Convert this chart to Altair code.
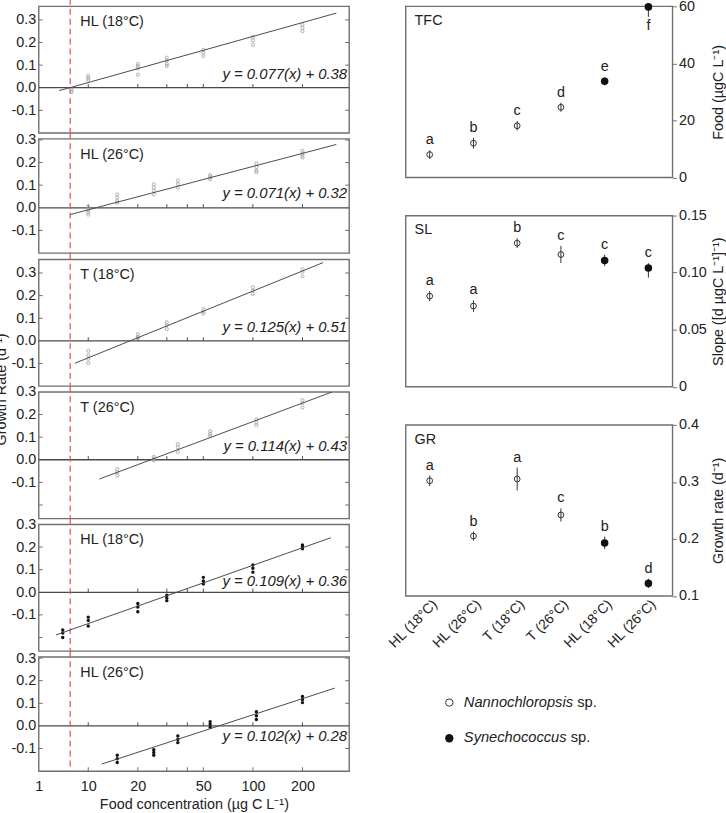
import json
import altair as alt
import pandas as pd

FONT = "Liberation Sans"
TXT = "#222222"
FRAME = "#707070"
LINE = "#4a4a4a"

# ---------------- left column: growth rate vs food concentration ----------------
panel_labels = ["HL (18°C)", "HL (26°C)", "T (18°C)", "T (26°C)", "HL (18°C)", "HL (26°C)"]
equations = ["y = 0.077(x) + 0.38", "y = 0.071(x) + 0.32", "y = 0.125(x) + 0.51",
             "y = 0.114(x) + 0.43", "y = 0.109(x) + 0.36", "y = 0.102(x) + 0.28"]
panel_species = ["N", "N", "N", "N", "S", "S"]
y_domains = [[-0.2, 0.36], [-0.2, 0.305], [-0.2, 0.36], [-0.26, 0.3], [-0.26, 0.3], [-0.2, 0.305]]
equation_y = [0.06, 0.067, 0.061, 0.062, 0.051, -0.045]

p1_food = [7.9, 10, 20, 30, 50, 100, 200]
p1_rate = [[-0.005, -0.012, -0.02], [0.053, 0.044, 0.035], [0.105, 0.095, 0.085, 0.058],
           [0.133, 0.12, 0.105, 0.096], [0.168, 0.155, 0.14], [0.224, 0.21, 0.19], [0.278, 0.265, 0.25]]
p2_food = [10, 15, 25, 35, 55, 105, 200]
p2_rate = [[0.005, -0.01, -0.02, -0.03], [0.059, 0.045, 0.03, 0.022], [0.104, 0.089, 0.075, 0.059],
           [0.121, 0.105, 0.089], [0.145, 0.135, 0.126], [0.196, 0.18, 0.165, 0.158], [0.252, 0.24, 0.23, 0.222]]
p3_food = [10, 20, 30, 50, 100, 200]
p3_rate = [[-0.044, -0.064, -0.079, -0.098], [0.029, 0.018, 0.012], [0.082, 0.07, 0.052],
           [0.14, 0.128, 0.121], [0.237, 0.222, 0.208], [0.317, 0.305, 0.285]]
p4_food = [15, 25, 35, 55, 105, 200]
p4_rate = [[-0.041, -0.055, -0.07], [0.013, 0.005, -0.003], [0.069, 0.055, 0.035],
           [0.126, 0.115, 0.106], [0.179, 0.165, 0.153], [0.264, 0.25, 0.231]]
p5_food = [7, 10, 20, 30, 50, 100, 200]
p5_rate = [[-0.167, -0.18, -0.2], [-0.11, -0.125, -0.149], [-0.05, -0.065, -0.086],
           [-0.013, -0.025, -0.037], [0.066, 0.05, 0.037], [0.121, 0.106, 0.089], [0.209, 0.2, 0.192]]
p6_food = [15, 25, 35, 55, 105, 200]
p6_rate = [[-0.13, -0.145, -0.162], [-0.105, -0.118, -0.13], [-0.045, -0.06, -0.074],
           [0.019, 0.008, -0.006], [0.063, 0.045, 0.028], [0.13, 0.117, 0.103]]

fit_x0 = [6.66, 7.77, 8.3, 11.7, 6.36, 12.05]
fit_y0 = [-0.013, -0.03, -0.099, -0.085, -0.189, -0.169]
fit_x1 = [321, 321, 267, 303, 297, 314]
fit_y1 = [0.33, 0.28, 0.346, 0.30, 0.241, 0.167]

threshold_food = 7.77
x_domain = [5, 384]
x_axis_values = [5, 10, 20, 50, 100, 200]
x_axis_labels = ["1", "10", "20", "50", "100", "200"]
zero_line_ticks = [10, 20, 30, 40, 50, 100, 200]
y_axis_values = [-0.1, 0.0, 0.1, 0.2, 0.3]
frame_ticks = [-0.2, -0.1, 0.1, 0.2, 0.3]

# ---------------- right column: treatment summaries ----------------
treat_ids = ["A", "B", "C", "D", "E", "F"]
treat_labels = ["HL (18°C)", "HL (26°C)", "T (18°C)", "T (26°C)", "HL (18°C)", "HL (26°C)"]
treat_species = ["N", "N", "N", "N", "S", "S"]
tfc_mean = [8.0, 12.0, 18.1, 24.6, 33.7, 59.8]
tfc_low = [6.5, 10.1, 16.4, 23.0, 32.3, 56.3]
tfc_high = [9.5, 13.9, 19.8, 26.2, 35.1, 60.0]
tfc_letters = ["a", "b", "c", "d", "e", "f"]
sl_mean = [0.0794, 0.0707, 0.1258, 0.1159, 0.1107, 0.1040]
sl_low = [0.0749, 0.0657, 0.1215, 0.1084, 0.1057, 0.0956]
sl_high = [0.0839, 0.0757, 0.1301, 0.1234, 0.1157, 0.1083]
sl_letters = ["a", "a", "b", "c", "c", "c"]
gr_mean = [0.302, 0.205, 0.305, 0.242, 0.193, 0.122]
gr_low = [0.293, 0.197, 0.285, 0.2305, 0.182, 0.114]
gr_high = [0.311, 0.213, 0.325, 0.2535, 0.204, 0.130]
gr_letters = ["a", "b", "a", "c", "b", "d"]

legend_genus = ["Nannochloropsis", "Synechococcus"]

# ---------------- layout constants ----------------
PX_PER_UNIT = 228
LEFT_W = 313
RIGHT_W = 269
RIGHT_H = 172.5
LEFT_GAP = 5.6

left_food = [p1_food, p2_food, p3_food, p4_food, p5_food, p6_food]
left_rate = [p1_rate, p2_rate, p3_rate, p4_rate, p5_rate, p6_rate]

x_label_expr = "{}[indexof({}, datum.value)]".format(
    json.dumps(x_axis_labels), json.dumps(x_axis_values))
y_label_expr = "datum.value < 0 ? '-' + format(-datum.value, '.1f') : format(datum.value, '.1f')"
treat_label_expr = "{}[indexof({}, datum.value)]".format(
    json.dumps(treat_labels, ensure_ascii=False), json.dumps(treat_ids))


def points_df(food, rates):
    rows = []
    for x, ys in zip(food, rates):
        for y in ys:
            rows.append({"food": x, "rate": y})
    return pd.DataFrame(rows)


def left_panel(i):
    d0, d1 = y_domains[i]
    h = (d1 - d0) * PX_PER_UNIT
    xs = alt.Scale(type="log", domain=x_domain, nice=False)
    ys = alt.Scale(domain=[d0, d1], nice=False, zero=False)
    bottom = i == len(panel_labels) - 1

    if bottom:
        x_axis = alt.Axis(values=x_axis_values, labelExpr=x_label_expr,
                          title="Food concentration (µg C L⁻¹)", tickSize=0, labelPadding=9,
                          titlePadding=4, domain=False, grid=False, labelFlush=False)
    else:
        x_axis = None
    if i == 2:
        y_axis = alt.Axis(values=y_axis_values, labelExpr=y_label_expr, tickSize=0,
                          labelPadding=3, domain=False, grid=False,
                          title="Growth Rate (d⁻¹)", titlePadding=2, titleY=h + 3)
    else:
        y_axis = alt.Axis(values=y_axis_values, labelExpr=y_label_expr, tickSize=0,
                          labelPadding=3, domain=False, grid=False, title=None)

    def X(f="food:Q"):
        return alt.X(f, scale=xs, axis=x_axis)

    def Y(f="rate:Q"):
        return alt.Y(f, scale=ys, axis=y_axis)

    zero = alt.Chart(pd.DataFrame({"rate": [0.0]})).mark_rule(
        color=LINE, strokeWidth=1.3).encode(y=Y())
    zt = alt.Chart(pd.DataFrame({"food": zero_line_ticks, "rate": 0.0, "hi": 0.016})).mark_rule(
        color=LINE, strokeWidth=1).encode(x=X(), y=Y(), y2="hi:Q")
    ft = pd.DataFrame({"rate": [v for v in frame_ticks if d0 < v < d1]})
    lt = alt.Chart(ft).mark_tick(orient="horizontal", size=4, thickness=1, color=FRAME,
                                 opacity=1).encode(y=Y(), x=alt.value(2))
    rt = alt.Chart(ft).mark_tick(orient="horizontal", size=4, thickness=1, color=FRAME,
                                 opacity=1).encode(y=Y(), x=alt.value(LEFT_W - 2))
    # dashed threshold line, running up through the gap above each panel
    red_top = -7.5 if i == 0 else -LEFT_GAP
    red = alt.Chart(pd.DataFrame({"food": [threshold_food]})).mark_rule(
        color="#e0504a", strokeDash=[6, 4], strokeWidth=1.2).encode(
        x=X(), y=alt.value(red_top), y2=alt.value(h))
    pdf = points_df(left_food[i], left_rate[i])
    if panel_species[i] == "N":
        pts = alt.Chart(pdf).mark_point(shape="circle", filled=False, color="#a5a5a5",
                                        strokeWidth=0.9, size=10, opacity=1)
    else:
        pts = alt.Chart(pdf).mark_point(shape="circle", filled=True, color="#111111",
                                        size=12, opacity=1)
    pts = pts.encode(x=X(), y=Y())
    fit = alt.Chart(pd.DataFrame({"food": [fit_x0[i], fit_x1[i]],
                                  "rate": [fit_y0[i], fit_y1[i]]})).mark_line(
        color=LINE, strokeWidth=1, clip=True).encode(x=X(), y=Y())
    lab = alt.Chart(pd.DataFrame({"t": [panel_labels[i]]})).mark_text(
        align="left", baseline="middle", fontSize=14.5, font=FONT, color=TXT).encode(
        text="t:N", x=alt.value(42), y=alt.value(16))
    eq = alt.Chart(pd.DataFrame({"t": [equations[i]], "rate": [equation_y[i]]})).mark_text(
        align="right", baseline="middle", fontSize=15, fontStyle="italic", font=FONT,
        color=TXT).encode(text="t:N", x=alt.value(LEFT_W - 2), y=Y())
    layers = [zero, zt, lt, rt, red, pts, fit, lab, eq]
    if bottom:
        bt = alt.Chart(pd.DataFrame({"food": zero_line_ticks})).mark_tick(
            orient="vertical", size=4, thickness=1, color=FRAME, opacity=1).encode(
            x=X(), y=alt.value(h - 2))
        layers.append(bt)
    return alt.layer(*layers).properties(width=LEFT_W, height=h)


def legend_layers():
    leg_df = pd.DataFrame({"genus": legend_genus, "row": [0, 1]})
    rows_y = [RIGHT_H + 107.5, RIGHT_H + 143.5]
    sp_x = [173, 166.5]
    base = alt.Chart(leg_df)
    out = []
    for r in range(2):
        sub = base.transform_filter(f"datum.row == {r}")
        if r == 0:
            mk = sub.mark_point(shape="circle", filled=False, color="#333333", strokeWidth=1,
                                size=55, opacity=1)
        else:
            mk = sub.mark_point(shape="circle", filled=True, color="#111111", size=70,
                                opacity=1)
        out.append(mk.encode(x=alt.value(44), y=alt.value(rows_y[r])))
        out.append(sub.mark_text(align="left", baseline="middle", fontSize=14.8,
                                 fontStyle="italic", font=FONT, color=TXT).encode(
            x=alt.value(58.7), y=alt.value(rows_y[r]), text="genus:N"))
        out.append(sub.mark_text(align="left", baseline="middle", fontSize=14.8, font=FONT,
                                 color=TXT, text="sp.").encode(
            x=alt.value(sp_x[r]), y=alt.value(rows_y[r])))
    return out


def right_panel(name, mean, low, high, letters, domain, axis_values, axis_label_expr,
                axis_title, show_x):
    df = pd.DataFrame({"treat": treat_ids, "species": treat_species, "mean": mean,
                       "low": low, "high": high, "letter": letters})
    xs = alt.Scale(type="point", padding=0.55, domain=treat_ids)
    ys = alt.Scale(domain=domain, nice=False, zero=False)
    if show_x:
        x_axis = alt.Axis(labelExpr=treat_label_expr, labelAngle=315, tickSize=0,
                          labelPadding=1, domain=False, grid=False, title=None,
                          labelFontSize=14)
    else:
        x_axis = None
    y_axis = alt.Axis(orient="right", values=axis_values, labelExpr=axis_label_expr,
                      tickSize=4, tickColor=FRAME, labelPadding=2, domain=False, grid=False,
                      title=axis_title, titleAngle=270, titleBaseline="top", titlePadding=4,
                      minExtent=35)
    base = alt.Chart(df)

    def X():
        return alt.X("treat:N", scale=xs, axis=x_axis)

    def Y(f):
        return alt.Y(f, scale=ys, axis=y_axis)

    bars = base.mark_rule(color="#333333", strokeWidth=1).encode(
        x=X(), y=Y("low:Q"), y2="high:Q")
    open_pts = base.transform_filter("datum.species == 'N'").mark_point(
        shape="circle", filled=False, color="#333333", strokeWidth=1, size=34,
        opacity=1).encode(x=X(), y=Y("mean:Q"))
    full_pts = base.transform_filter("datum.species == 'S'").mark_point(
        shape="circle", filled=True, color="#111111", size=58, opacity=1).encode(
        x=X(), y=Y("mean:Q"))
    above = base.transform_filter(f"datum.high < {domain[1]}").mark_text(
        dy=-10, baseline="middle", fontSize=14.5, font=FONT, color=TXT).encode(
        x=X(), y=Y("high:Q"), text="letter:N")
    below = base.transform_filter(f"datum.high >= {domain[1]}").mark_text(
        dy=19, baseline="middle", fontSize=14.5, font=FONT, color=TXT).encode(
        x=X(), y=Y("mean:Q"), text="letter:N")
    tag = alt.Chart(pd.DataFrame({"t": [name]})).mark_text(
        align="left", baseline="middle", fontSize=14.5, font=FONT, color=TXT).encode(
        text="t:N", x=alt.value(9), y=alt.value(15))
    layers = [bars, open_pts, full_pts, above, below, tag]
    if show_x:
        layers += legend_layers()
    return alt.layer(*layers).properties(width=RIGHT_W, height=RIGHT_H)


tfc = right_panel("TFC", tfc_mean, tfc_low, tfc_high, tfc_letters, [0, 60], [0, 20, 40, 60],
                  "format(datum.value, 'd')", "Food (µgC L⁻¹)", False)
sl = right_panel("SL", sl_mean, sl_low, sl_high, sl_letters, [0, 0.15], [0, 0.05, 0.10, 0.15],
                 "datum.value == 0 ? '0' : format(datum.value, '.2f')",
                 "Slope ([d µgC L⁻¹]⁻¹)", False)
gr = right_panel("GR", gr_mean, gr_low, gr_high, gr_letters, [0.1, 0.4], [0.1, 0.2, 0.3, 0.4],
                 "format(datum.value, '.1f')", "Growth rate (d⁻¹)", True)

left = alt.vconcat(*[left_panel(i) for i in range(6)], spacing=LEFT_GAP, bounds="flush")
right = alt.vconcat(tfc, sl, gr, spacing=38, bounds="flush")

chart = alt.hconcat(left, right, spacing=34).properties(
    padding={"left": -7, "top": -6, "right": 0, "bottom": 0}
).configure(font=FONT).configure_view(
    stroke=FRAME, strokeWidth=1.4
).configure_axis(
    labelFont=FONT, titleFont=FONT, labelFontSize=14.5, titleFontSize=14.5,
    labelColor=TXT, titleColor=TXT, titleFontWeight="normal"
)

chart.save("out.html", embed_options={"renderer": "svg", "actions": False})
